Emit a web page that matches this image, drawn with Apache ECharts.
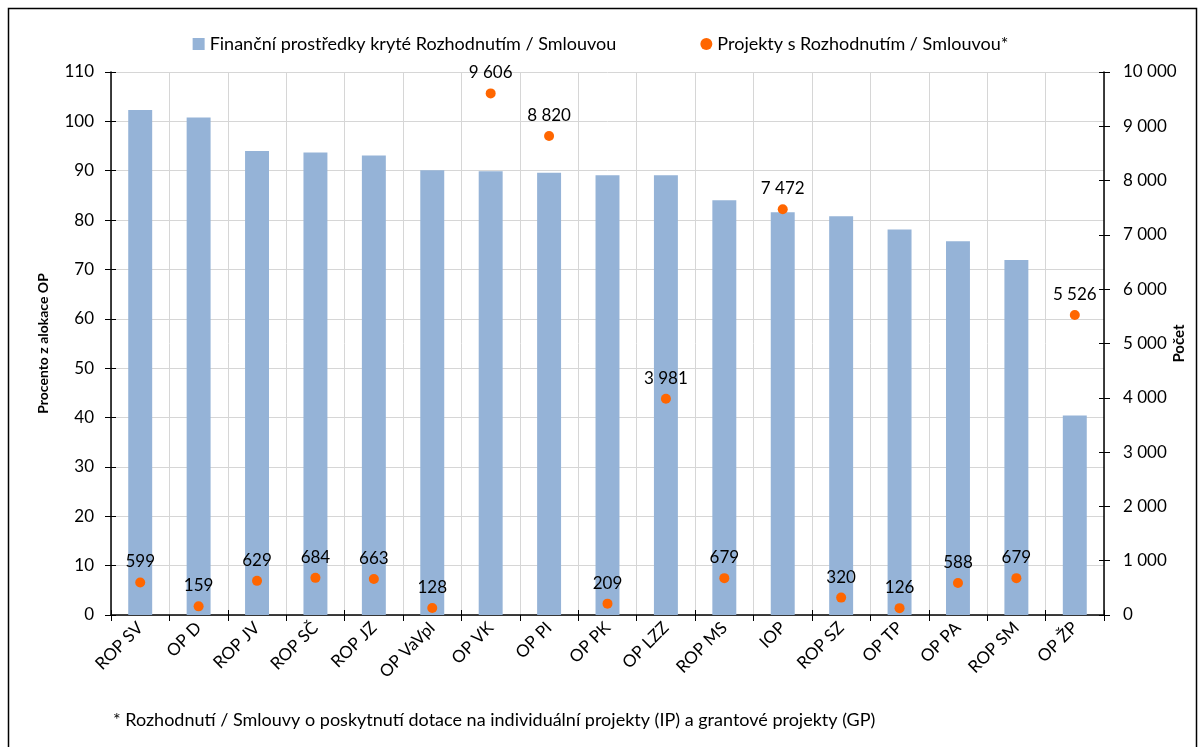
<!DOCTYPE html>
<html><head><meta charset="utf-8">
<script src="https://cdn.jsdelivr.net/npm/echarts@6/dist/echarts.min.js"></script>
<style>html,body{margin:0;padding:0;background:#fff}#c{width:1201px;height:747px}</style>
</head><body><div id="c"></div>
<script>
const categories = ['ROP SV','OP D','ROP JV','ROP SČ','ROP JZ','OP VaVpI','OP VK','OP PI','OP PK','OP LZZ','ROP MS','IOP','ROP SZ','OP TP','OP PA','ROP SM','OP ŽP'];
const percentValues = [102.3,100.8,94.0,93.7,93.1,90.1,89.9,89.6,89.1,89.1,84.0,81.6,80.8,78.1,75.7,71.9,40.4];
const projectCounts = [599,159,629,684,663,128,9606,8820,209,3981,679,7472,320,126,588,679,5526];
const leftTicks = {min:0,max:110,interval:10};
const rightTicks = {min:0,max:10000,interval:1000};
const seriesNames = ['Finanční prostředky kryté Rozhodnutím / Smlouvou','Projekty s Rozhodnutím / Smlouvou*'];
const footnote = '* Rozhodnutí / Smlouvy o poskytnutí dotace na individuální projekty (IP) a grantové projekty (GP)';

const FONT = 'Lato';
const fmt = v => String(v).replace(/\B(?=(\d{3})+(?!\d))/g, ' ');
const tickStyle = {color:'#000',width:1};

const chart = echarts.init(document.getElementById('c'));
chart.setOption({
  animation:false,
  textStyle:{fontFamily:FONT,color:'#000'},
  graphic:[
    {type:'rect',shape:{x:8.5,y:8.5,width:1188,height:760},style:{fill:'none',stroke:'#000',lineWidth:1.5},z:-1},
    {type:'text',left:113,top:711,style:{text:footnote,font:'18px '+FONT,fill:'#000'}}
  ],
  legend:{
    top:30,left:'center',itemGap:84,itemWidth:12,itemHeight:12,
    textStyle:{fontSize:18,fontFamily:FONT,color:'#000'},
    data:[{name:seriesNames[0],icon:'rect'},{name:seriesNames[1],icon:'circle'}]
  },
  grid:{left:111,right:97,top:72,bottom:132,containLabel:false,outerBoundsMode:'none'},
  xAxis:[{
    type:'category',data:categories,
    axisLine:{lineStyle:{color:'#000',width:1.5}},
    axisTick:{show:true,length:6,lineStyle:tickStyle},
    axisLabel:{rotate:45,fontSize:17,color:'#000',margin:10,interval:0},
    splitLine:{show:true,interval:0,lineStyle:{color:'#d6d6d6'}}
  },{
    type:'category',data:categories,position:'bottom',
    axisLine:{show:false},
    axisTick:{show:true,inside:true,length:5,lineStyle:tickStyle},
    axisLabel:{show:false},splitLine:{show:false}
  }],
  yAxis:[
    {type:'value',min:leftTicks.min,max:leftTicks.max,interval:leftTicks.interval,
     name:'Procento z alokace OP',nameLocation:'middle',nameGap:61,
     nameTextStyle:{fontWeight:'bold',fontSize:14,color:'#000'},
     axisLine:{show:true,lineStyle:{color:'#000',width:1.5}},
     axisTick:{show:true,length:6,lineStyle:tickStyle},
     axisLabel:{fontSize:17,color:'#000',margin:17},
     splitLine:{lineStyle:{color:'#d6d6d6'}}},
    {type:'value',min:rightTicks.min,max:rightTicks.max,interval:rightTicks.interval,
     name:'Počet',nameLocation:'middle',nameGap:68,nameRotate:90,nameMoveOverlap:false,
     nameTextStyle:{fontWeight:'bold',fontSize:15,color:'#000'},
     axisLine:{show:true,lineStyle:{color:'#000',width:1.5}},
     axisTick:{show:true,length:6,lineStyle:tickStyle},
     axisLabel:{fontSize:17,color:'#000',margin:19,formatter:v=>fmt(v)},
     splitLine:{show:false}},
    {type:'value',position:'left',min:leftTicks.min,max:leftTicks.max,interval:leftTicks.interval,
     axisLine:{show:false},axisTick:{show:true,inside:true,length:5,lineStyle:tickStyle},
     axisLabel:{show:false},splitLine:{show:false}},
    {type:'value',position:'right',min:rightTicks.min,max:rightTicks.max,interval:rightTicks.interval,
     axisLine:{show:false},axisTick:{show:true,inside:true,length:5,lineStyle:tickStyle},
     axisLabel:{show:false},splitLine:{show:false}}
  ],
  series:[
    {name:seriesNames[0],type:'bar',data:percentValues,barWidth:'41%',
     itemStyle:{color:'#95B3D7'},yAxisIndex:0},
    {name:seriesNames[1],type:'scatter',data:projectCounts,yAxisIndex:1,symbolSize:10,
     itemStyle:{color:'#FF6600',opacity:1},
     label:{show:true,position:'top',distance:7,fontSize:17,color:'#000',formatter:p=>fmt(p.value)}}
  ]
});
</script></body></html>
